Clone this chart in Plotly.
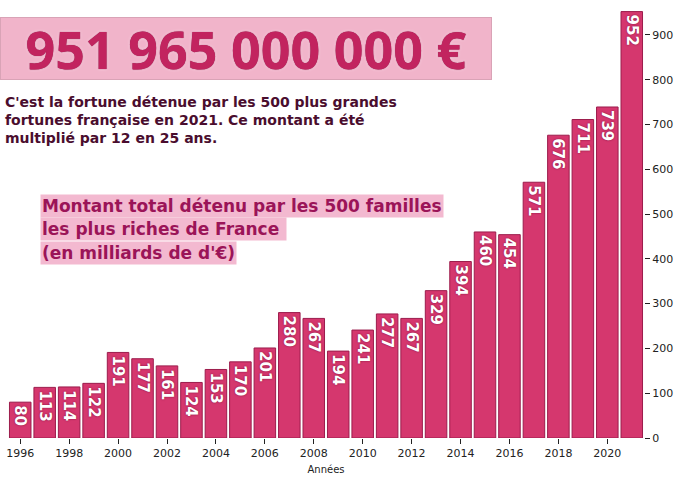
import plotly.graph_objects as go

years = list(range(1996, 2022))
values = [80, 113, 114, 122, 191, 177, 161, 124, 153, 170, 201, 280, 267, 194,
          241, 277, 267, 329, 394, 460, 454, 571, 676, 711, 739, 952]
xtick_years = list(range(1996, 2021, 2))
ytick_vals = list(range(0, 1000, 100))

headline = "951 965 000 000 €"
subtitle_lines = ["C'est la fortune détenue par les 500 plus grandes",
                  "fortunes française en 2021. Ce montant a été",
                  "multiplié par 12 en 25 ans."]
legend_lines = ["Montant total détenu par les 500 familles",
                "les plus riches de France ",
                "(en milliards de d'€)"]
x_title = "Années"

W, H = 688, 482
L, R, T, B = 8, 44, 8, 44
pw, ph = W - L - R, H - T - B


def px_x(p):
    return (p - L) / pw


def px_y(p):
    return (H - B - p) / ph


FONT = "DejaVu Sans"

fig = go.Figure()
fig.add_trace(go.Bar(
    x=years, y=values,
    marker=dict(color="#d5376e", line=dict(color="#9c1c4c", width=1)),
    text=[str(v) for v in values],
    textposition="inside",
    insidetextanchor="end",
    textangle=90,
    constraintext="none",
    textfont=dict(family=FONT, size=15, color="white", weight="bold",
                  shadow="0px 0px 2px #7a0f3a"),
    hoverinfo="skip",
))

annotations = []
annotations.append(dict(
    xref="paper", yref="paper", x=px_x(246), y=px_y(48),
    xanchor="center", yanchor="middle",
    text="<b>" + headline + "</b>", showarrow=False,
    width=490, height=61, bgcolor="#f1b4ca", bordercolor="#d9a3b6",
    borderwidth=1, borderpad=0,
    font=dict(family="Open Sans", size=52, color="#c2245f",
              shadow="0px 0px 1px #7a0f3a, 0px 0px 3px #ffe3ee"),
))
annotations.append(dict(
    xref="paper", yref="paper", x=px_x(3), y=px_y(92),
    xanchor="left", yanchor="top", align="left",
    text="<b>" + "<br>".join(subtitle_lines) + "</b>", showarrow=False,
    font=dict(family=FONT, size=14, color="#4a0d2e"),
))
for i, line in enumerate(legend_lines):
    annotations.append(dict(
        xref="paper", yref="paper", x=px_x(40), y=px_y(205.5 + i * 23.5),
        xanchor="left", yanchor="middle", align="left",
        text="<b>" + line + "</b>", showarrow=False,
        bgcolor="#f3b9d0", borderpad=1,
        font=dict(family=FONT, size=17, color="#9b1458"),
    ))

fig.update_layout(
    width=W, height=H,
    margin=dict(l=L, r=R, t=T, b=B, autoexpand=False),
    paper_bgcolor="white", plot_bgcolor="white",
    bargap=0.12,
    showlegend=False,
    annotations=annotations,
    xaxis=dict(
        range=[1995.5, 2021.5], tickmode="array", tickvals=xtick_years,
        ticks="outside", ticklen=5, tickcolor="#222", showgrid=False,
        showline=False, zeroline=False, automargin=False,
        tickfont=dict(family=FONT, size=11, color="#222"),
        title=dict(text=x_title, font=dict(family=FONT, size=10, color="#222"),
                   standoff=6),
    ),
    yaxis=dict(
        side="right", range=[0, 960], tickmode="array", tickvals=ytick_vals,
        ticks="outside", ticklen=5, tickcolor="#222", showgrid=False,
        showline=False, zeroline=False, automargin=False,
        tickfont=dict(family=FONT, size=11, color="#222"),
    ),
)

fig.write_html("out.html",
               config={"displayModeBar": False},
               post_script="document.body.style.margin='0';document.body.style.overflow='hidden';")
